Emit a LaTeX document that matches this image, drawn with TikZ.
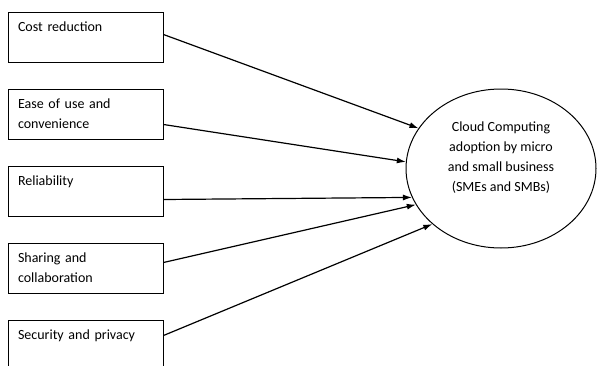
\documentclass[tikz,border=0pt]{standalone}
\usepackage{fontspec}
\setmainfont{Carlito}
\usetikzlibrary{positioning, shapes.geometric, arrows.meta}

\tikzset{
  factor/.style={draw, line width=1pt, rectangle, anchor=north west,
    text width=135pt, align=left, inner xsep=10pt, inner ysep=0pt,
    text height=19pt, text depth=31pt, font=\fontsize{14}{20}\selectfont},
  adopt/.style={draw, line width=1pt, ellipse, inner sep=0pt,
    minimum width=190pt, minimum height=159pt},
  link/.style={line width=1.2pt, -{Latex[length=9pt,width=6pt]}}
}

\begin{document}
\begin{tikzpicture}[x=1pt, y=-1pt, node distance=26pt]

    \path[use as bounding box] (0,0) rectangle (597,367);
    \clip (0,0) rectangle (597,365.5);

    % The five factors on the left
    \node[factor] (cost) at (7.5,12) {Cost reduction};
    \node[factor, below=of cost] (ease) {Ease of use and\\convenience};
    \node[factor, below=of ease] (reliab) {Reliability};
    \node[factor, below=of reliab] (sharing) {Sharing and\\collaboration};
    \node[factor, below=of sharing] (security) {Security and privacy};

    % The adoption ellipse
    \node[adopt] (adoption) at (501,168.5) {};
    \node[font=\fontsize{14}{20}\selectfont, align=center, inner sep=0pt] (adoptText)
        at ([yshift=11pt]adoption.center)
        {Cloud Computing\\adoption by micro\\and small business\\(SMEs and SMBs)};

    % Arrows into the ellipse
    \draw[link] ([yshift=3pt]cost.east) -- (adoption.154.8);
    \draw[link] ([yshift=-10pt]ease.east) -- (adoption.176.7);
    \draw[link] ([yshift=-8pt]reliab.east) -- (adoption.198.3);
    \draw[link] ([yshift=6pt]sharing.east) -- (adoption.203.7);
    \draw[link] ([yshift=10pt]security.east) -- (adoption.219.1);

\end{tikzpicture}
\end{document}
